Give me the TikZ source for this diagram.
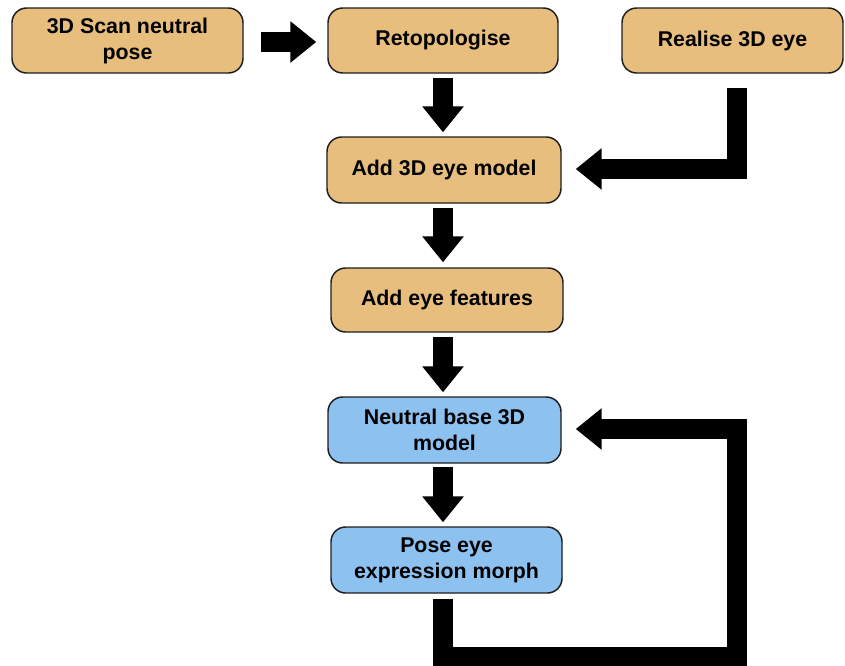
\documentclass[tikz,border=0pt]{standalone}
\usepackage{fontspec}
\setmainfont{Liberation Sans}
\usetikzlibrary{arrows.meta,calc}
\definecolor{boxorange}{HTML}{E8BE7E}
\definecolor{boxblue}{HTML}{8CC1F0}
\definecolor{boxline}{HTML}{1E1E1E}
\tikzset{
  stepbox/.style={draw=boxline, line width=1.1pt, rounded corners=11pt, align=center,
    inner sep=0pt, minimum height=48.75pt,
    font=\fontsize{16}{19.5}\selectfont\bfseries},
  orangebox/.style={stepbox, fill=boxorange},
  bluebox/.style={stepbox, fill=boxblue},
  blockarrow/.style={line width=15pt, line cap=butt, line join=miter, draw=black,
    -{Triangle[width=30pt,length=19.5pt]}}
}
\begin{document}
\begin{tikzpicture}[x=0.75pt,y=-0.75pt]
\useasboundingbox (0,0) rectangle (845,665);
\node[orangebox, minimum width=173.25pt] (scan) at (127.5,40.5) {3D Scan neutral\\pose};
\node[orangebox, minimum width=172.5pt] (retopo) at (443,40.5) {Retopologise};
\node[orangebox, minimum width=165.75pt] (realise) at (732.5,40.5) {Realise 3D eye};
\node[orangebox, minimum width=175.5pt, minimum height=49.5pt] (addeye) at (444,170) {Add 3D eye model};
\node[orangebox, minimum width=174pt, minimum height=48pt] (feat) at (447,300) {Add eye features};
\node[bluebox, minimum width=174.75pt, minimum height=49.5pt] (neutral) at (444.5,430) {Neutral base 3D\\model};
\node[bluebox, minimum width=173.25pt, minimum height=49.5pt] (pose) at (446.5,560) {Pose eye\\expression morph};

\coordinate (h1s) at ($(scan.east)+(17,1.5)$);
\coordinate (h1e) at ($(retopo.west)+(-11,1.5)$);
\draw[blockarrow] (h1s) -- (h1e);

\draw[blockarrow] ($(retopo.south)+(0,4)$) -- ($(addeye.north)+(-1,-4)$);
\draw[blockarrow] ($(addeye.south)+(-1,4)$) -- ($(feat.north)+(-4,-5)$);
\draw[blockarrow] ($(feat.south)+(-4,4)$) -- ($(neutral.north)+(-1.5,-4)$);
\draw[blockarrow] ($(neutral.south)+(-1.5,3)$) -- ($(pose.north)+(-3.5,-4)$);

\coordinate (rs) at ($(realise.south)+(4.5,14)$);
\coordinate (rt) at ($(addeye.east)+(14,-1)$);
\draw[blockarrow] (rs) -- (rs |- rt) -- (rt);

\coordinate (ps) at ($(pose.south)+(-3.5,5)$);
\coordinate (pb) at ($(ps)+(0,58)$);
\coordinate (nt) at ($(neutral.east)+(14,-1)$);
\draw[blockarrow] (ps) -- (pb) -- (pb -| rs) -- (rs |- nt) -- (nt);
\end{tikzpicture}
\end{document}
